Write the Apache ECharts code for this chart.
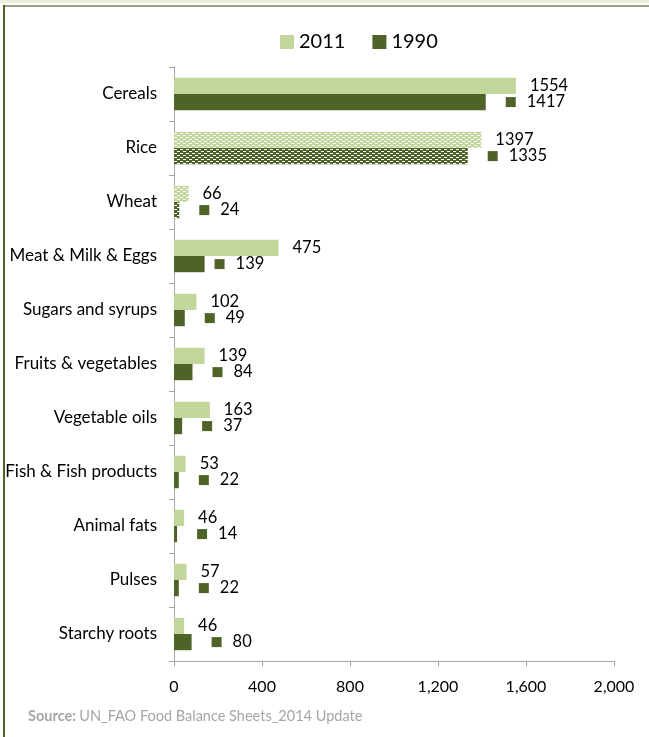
<!DOCTYPE html>
<html><head><meta charset="utf-8">
<script src="https://cdn.jsdelivr.net/npm/echarts@6/dist/echarts.min.js"></script>
<style>html,body{margin:0;padding:0;background:#fff}#c{width:649px;height:737px}</style>
</head><body><div id="c"></div>
<script>
var categories = ['Cereals','Rice','Wheat','Meat & Milk & Eggs','Sugars and syrups','Fruits & vegetables','Vegetable oils','Fish & Fish products','Animal fats','Pulses','Starchy roots'];
var values2011 = [1554,1397,66,475,102,139,163,53,46,57,46];
var values1990 = [1417,1335,24,139,49,84,37,22,14,22,80];
var patterned = ['Rice','Wheat'];

var C2011 = '#c2d69b', C1990 = '#4f6228';
var FONT = 'Lato';

function pattern(color){
  var c = document.createElement('canvas'); c.width = 6; c.height = 4;
  var g = c.getContext('2d');
  g.fillStyle = color; g.fillRect(0,0,6,4);
  g.fillStyle = '#ffffff';
  g.fillRect(0,1,3,1);
  g.fillRect(3,3,3,1);
  return {image: c, repeat: 'repeat'};
}
function items(vals, color, is1990){
  return vals.map(function(v,i){
    var it = {value: v};
    if (patterned.indexOf(categories[i]) >= 0) it.itemStyle = {color: pattern(color)};
    if (is1990 && categories[i] === 'Meat & Milk & Eggs') it.label = {distance: 10};
    return it;
  });
}

var chart = echarts.init(document.getElementById('c'), null, {renderer:'canvas'});
chart.setOption({
  animation: false,
  textStyle: {fontFamily: FONT},
  legend: {
    top: 27, left: 275, itemWidth: 14, itemHeight: 14, itemGap: 27,
    icon: 'rect',
    textStyle: {fontSize: 20, color: '#000', fontFamily: FONT},
    data: ['2011','1990']
  },
  grid: {left: 174, right: 35, top: 67, bottom: 76, containLabel: false},
  xAxis: {
    type: 'value', min: 0, max: 2000, interval: 400,
    axisLine: {show: true, lineStyle: {color: '#a6a6a6'}},
    axisTick: {show: true, length: 5, lineStyle: {color: '#a6a6a6'}},
    splitLine: {show: false},
    axisLabel: {fontSize: 16, color: '#000', margin: 18, fontFamily: FONT,
      formatter: function(v){ return v.toLocaleString('en-US'); }}
  },
  yAxis: {
    type: 'category', inverse: true, data: categories,
    axisLine: {show: true, lineStyle: {color: '#a6a6a6'}},
    axisTick: {show: true, length: 5, lineStyle: {color: '#a6a6a6'}},
    axisLabel: {fontSize: 17, color: '#000', margin: 17, fontFamily: FONT}
  },
  series: [
    {name: '2011', type: 'bar', data: items(values2011, C2011, false), barGap: '0%', barCategoryGap: '40%',
     itemStyle: {color: C2011},
     label: {show: true, position: 'right', distance: 14, fontSize: 16.5, color: '#000', fontFamily: FONT}},
    {name: '1990', type: 'bar', data: items(values1990, C1990, true), barGap: '0%', barCategoryGap: '40%',
     itemStyle: {color: C1990},
     label: {show: true, position: 'right', distance: 20, fontSize: 16.5, color: '#000', fontFamily: FONT,
       formatter: '{sq|}{v|{c}}',
       rich: {sq: {width: 10, height: 10, backgroundColor: C1990},
              v: {fontSize: 16.5, color: '#000', fontFamily: FONT, padding: [0,0,0,11]}}}}
  ],
  graphic: [
    {type: 'rect', shape: {x: 0, y: 0, width: 649, height: 3}, style: {fill: '#eeeedd'}},
    {type: 'rect', shape: {x: 3, y: 5, width: 646, height: 2}, style: {fill: '#9aa57f'}},
    {type: 'rect', shape: {x: 3, y: 5, width: 2, height: 732}, style: {fill: '#4f6228'}},
    {type: 'text', left: 28, top: 709,
     style: {text: '{b|Source:} {n|UN_FAO Food Balance Sheets_2014 Update}',
       rich: {b: {fontWeight: 'bold', fontSize: 14.5, fill: '#a6a6a6', fontFamily: FONT},
              n: {fontSize: 14.5, fill: '#a6a6a6', fontFamily: FONT}}}}
  ]
});
</script>
</body></html>
